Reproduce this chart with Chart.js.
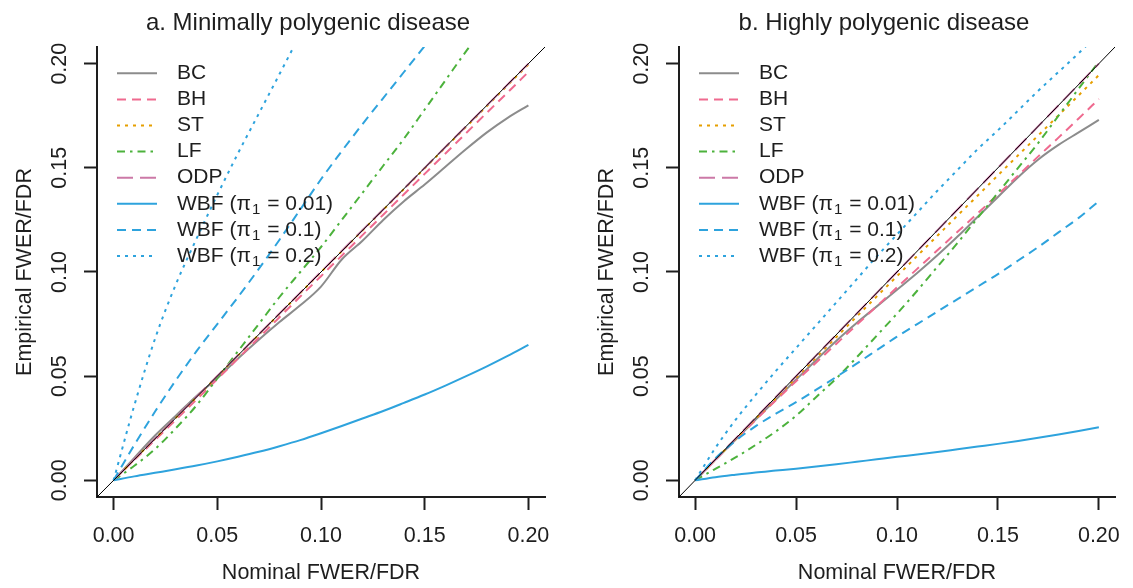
<!DOCTYPE html>
<html>
<head>
<meta charset="utf-8">
<script src="https://cdn.jsdelivr.net/npm/chart.js@4"></script>
<style>
  html, body { margin: 0; padding: 0; background: #fff; }
  body { width: 1133px; height: 588px; position: relative; overflow: hidden; }
  .panel { position: absolute; top: 0; height: 588px; }
</style>
</head>
<body>
<div class="panel" style="left:0;width:566px"><canvas id="panelA"></canvas></div>
<div class="panel" style="left:582px;width:551px"><canvas id="panelB"></canvas></div>
<script>
// ── Data ───────────────────────────────────────────────────────

const nominal = [0, 0.01, 0.02, 0.03, 0.04, 0.05, 0.06, 0.07, 0.08, 0.09, 0.10,
  0.11, 0.12, 0.13, 0.14, 0.15, 0.16, 0.17, 0.18, 0.19, 0.20];
const axisTicks = [0, 0.05, 0.10, 0.15, 0.20];
const axisRange = [-0.008, 0.208];
const diagonal = [-0.01, 0.21];

const methods = ["BC", "BH", "ST", "LF", "ODP", "WBF (π₁ = 0.01)", "WBF (π₁ = 0.1)", "WBF (π₁ = 0.2)"];
const panelTitles = ["a. Minimally polygenic disease", "b. Highly polygenic disease"];

// a. minimally polygenic
const bcA = [0, 0.0108, 0.0215, 0.0310, 0.0405, 0.0490, 0.0585, 0.0675, 0.0760, 0.0840, 0.0930,
  0.1060, 0.1150, 0.1250, 0.1340, 0.1420, 0.1505, 0.1590, 0.1670, 0.1740, 0.1800];
const bhA = [0, 0.0097, 0.0194, 0.0290, 0.0388, 0.0486, 0.0585, 0.0684, 0.0783, 0.0882, 0.0980,
  0.1078, 0.1177, 0.1275, 0.1373, 0.1471, 0.1569, 0.1667, 0.1765, 0.1862, 0.1960];
const stA = [0, 0.0100, 0.0200, 0.0300, 0.0399, 0.0499, 0.0599, 0.0699, 0.0799, 0.0899, 0.0999,
  0.1099, 0.1199, 0.1298, 0.1398, 0.1498, 0.1598, 0.1697, 0.1797, 0.1897, 0.1996];
const lfA = [0, 0.0070, 0.0150, 0.0250, 0.0360, 0.0490, 0.0620, 0.0750, 0.0880, 0.1000, 0.1120,
  0.1250, 0.1380, 0.1510, 0.1640, 0.1780, 0.1920, 0.2060, 0.2190];
const odpA = [0, 0.0101, 0.0201, 0.0301, 0.0401, 0.0501, 0.0601, 0.0701, 0.0801, 0.0901, 0.1001,
  0.1101, 0.1201, 0.1300, 0.1400, 0.1500, 0.1600, 0.1700, 0.1800, 0.1900, 0.2000];
const wbf01A = [0, 0.0019, 0.0036, 0.0053, 0.0071, 0.0091, 0.0113, 0.0137, 0.0164, 0.0193, 0.0226,
  0.0261, 0.0297, 0.0333, 0.0372, 0.0412, 0.0455, 0.0500, 0.0547, 0.0597, 0.0650];
const wbf1A = [0, 0.0170, 0.0330, 0.0480, 0.0620, 0.0750, 0.0880, 0.1015, 0.1155, 0.1300, 0.1445,
  0.1580, 0.1710, 0.1835, 0.1960, 0.2085, 0.2210];
const wbf2A = [0, 0.0360, 0.0680, 0.0940, 0.1160, 0.1370, 0.1570, 0.1760, 0.1950, 0.2140, 0.2320];

// b. highly polygenic
const bcB = [0, 0.0098, 0.0195, 0.0292, 0.0388, 0.0483, 0.0578, 0.0670, 0.0755, 0.0835, 0.0915,
  0.0995, 0.1080, 0.1170, 0.1265, 0.1360, 0.1455, 0.1540, 0.1610, 0.1670, 0.1730];
const bhB = [0, 0.0097, 0.0194, 0.0290, 0.0384, 0.0476, 0.0566, 0.0656, 0.0746, 0.0836, 0.0926,
  0.1015, 0.1104, 0.1193, 0.1282, 0.1372, 0.1463, 0.1555, 0.1645, 0.1737, 0.1830];
const stB = [0, 0.0099, 0.0198, 0.0296, 0.0394, 0.0492, 0.0590, 0.0688, 0.0786, 0.0883, 0.0980,
  0.1077, 0.1174, 0.1271, 0.1367, 0.1464, 0.1560, 0.1656, 0.1752, 0.1848, 0.1945];
const lfB = [0, 0.0055, 0.0110, 0.0170, 0.0235, 0.0310, 0.0400, 0.0490, 0.0590, 0.0695, 0.0800,
  0.0910, 0.1025, 0.1140, 0.1260, 0.1380, 0.1500, 0.1620, 0.1750, 0.1880, 0.2010];
const odpB = [0, 0.0100, 0.0200, 0.0300, 0.0400, 0.0500, 0.0600, 0.0700, 0.0800, 0.0900, 0.1000,
  0.1100, 0.1200, 0.1300, 0.1400, 0.1500, 0.1600, 0.1700, 0.1800, 0.1900, 0.2000];
const wbf01B = [0, 0.0015, 0.0027, 0.0038, 0.0047, 0.0056, 0.0066, 0.0077, 0.0089, 0.0101, 0.0113,
  0.0124, 0.0136, 0.0149, 0.0162, 0.0175, 0.0189, 0.0204, 0.0220, 0.0237, 0.0255];
const wbf1B = [0, 0.0105, 0.0190, 0.0260, 0.0320, 0.0375, 0.0435, 0.0497, 0.0560, 0.0625, 0.0690,
  0.0750, 0.0810, 0.0870, 0.0930, 0.0990, 0.1055, 0.1120, 0.1190, 0.1260, 0.1340];
const wbf2B = [0, 0.0155, 0.0290, 0.0410, 0.0525, 0.0635, 0.0745, 0.0855, 0.0965, 0.1075, 0.1180,
  0.1285, 0.1390, 0.1490, 0.1590, 0.1680, 0.1775, 0.1870, 0.1960, 0.2050, 0.2145];

// ── Styling ────────────────────────────────────────────────────

const FAMILY = '"Liberation Sans", Arial, Helvetica, sans-serif';
const INK = "#1e1e1e";
const BLUE = "#2ea3dd";
const DASHED = [9, 6], DOTTED = [3, 5], DOTDASH = [8, 5, 2.5, 5], LONGDASH = [16, 7];
const lineStyles = [
  { color: "#8c8c8c", dash: [] },
  { color: "#ef6a8f", dash: DASHED },
  { color: "#e69f00", dash: DOTTED },
  { color: "#4cb23c", dash: DOTDASH },
  { color: "#cc79a7", dash: LONGDASH },
  { color: BLUE, dash: [] },
  { color: BLUE, dash: DASHED },
  { color: BLUE, dash: DOTTED },
];

// y tick labels (rotated, R style), panel title and in-plot legend
const panelDecor = {
  id: "panelDecor",
  afterDraw(chart, args, opts) {
    const { ctx, chartArea: area, scales } = chart;
    ctx.save();
    ctx.fillStyle = INK;

    // rotated y tick labels
    ctx.font = `21.5px ${FAMILY}`;
    ctx.textAlign = "center";
    ctx.textBaseline = "middle";
    axisTicks.forEach((v) => {
      ctx.save();
      ctx.translate(area.left - 37, scales.y.getPixelForValue(v));
      ctx.rotate(-Math.PI / 2);
      ctx.fillText(v.toFixed(2), 0, 0);
      ctx.restore();
    });

    // title
    ctx.font = `24px ${FAMILY}`;
    ctx.fillText(opts.title, (area.left + area.right) / 2 - 13, 23);

    // legend
    ctx.textAlign = "left";
    methods.forEach((name, i) => {
      const ds = chart.data.datasets[i];
      const y = area.top + 26.3 + i * 26.1;
      ctx.strokeStyle = ds.borderColor;
      ctx.lineWidth = 2;
      ctx.setLineDash(ds.borderDash);
      ctx.beginPath();
      ctx.moveTo(area.left + 20, y);
      ctx.lineTo(area.left + 60, y);
      ctx.stroke();
      ctx.setLineDash([]);

      let x = area.left + 80;
      const [head, tail] = name.split("₁");
      ctx.font = `21px ${FAMILY}`;
      ctx.fillText(head, x, y);
      x += ctx.measureText(head).width;
      if (tail !== undefined) {
        ctx.font = `15px ${FAMILY}`;
        ctx.fillText("1", x + 1, y + 6);
        x += ctx.measureText("1").width + 2;
        ctx.font = `21px ${FAMILY}`;
        ctx.fillText(tail, x, y);
      }
    });
    ctx.restore();
  },
};

function axisOptions(title, titlePadding, extra) {
  return Object.assign({
    type: "linear",
    min: axisRange[0],
    max: axisRange[1],
    afterBuildTicks: (s) => { s.ticks = axisTicks.map((value) => ({ value })); },
    grid: { display: true, drawOnChartArea: false, drawTicks: true, tickLength: 13, tickWidth: 2, tickColor: INK },
    border: { display: true, width: 2, color: INK },
    title: { display: true, text: title, color: INK, padding: titlePadding, font: { family: FAMILY, size: 21.5 } },
  }, extra);
}

function makePanel(canvasId, title, series, padRight) {
  const datasets = series.map((ys, i) => ({
    label: methods[i],
    data: ys.map((y, k) => ({ x: nominal[k], y })),
    borderColor: lineStyles[i].color,
    borderDash: lineStyles[i].dash,
    borderWidth: 2,
    borderCapStyle: "butt",
    pointRadius: 0,
    cubicInterpolationMode: "monotone",
    order: methods.length - i,
  }));
  datasets.push({
    label: "y = x",
    data: diagonal.map((v) => ({ x: v, y: v })),
    borderColor: "#000",
    borderWidth: 1,
    pointRadius: 0,
    order: 0,
  });

  return new Chart(document.getElementById(canvasId), {
    type: "line",
    data: { datasets },
    options: {
      responsive: true,
      maintainAspectRatio: false,
      animation: false,
      layout: { padding: { top: 47, right: padRight, bottom: 0, left: 0 } },
      plugins: {
        legend: { display: false },
        tooltip: { enabled: false },
        panelDecor: { title },
      },
      scales: {
        x: axisOptions("Nominal FWER/FDR", { top: 0, bottom: 2 }, {
          afterFit: (s) => { s.height = 91; },
          ticks: {
            color: INK, maxRotation: 0, padding: 13,
            font: { family: FAMILY, size: 21.5 },
            callback: (v) => Number(v).toFixed(2),
          },
        }),
        y: axisOptions("Empirical FWER/FDR", { top: 12, bottom: 0 }, {
          afterFit: (s) => { s.width = 97; },
          ticks: { display: false },
        }),
      },
    },
    plugins: [panelDecor],
  });
}

makePanel("panelA", panelTitles[0], [bcA, bhA, stA, lfA, odpA, wbf01A, wbf1A, wbf2A], 21);
makePanel("panelB", panelTitles[1], [bcB, bhB, stB, lfB, odpB, wbf01B, wbf1B, wbf2B], 6);
</script>
</body>
</html>
